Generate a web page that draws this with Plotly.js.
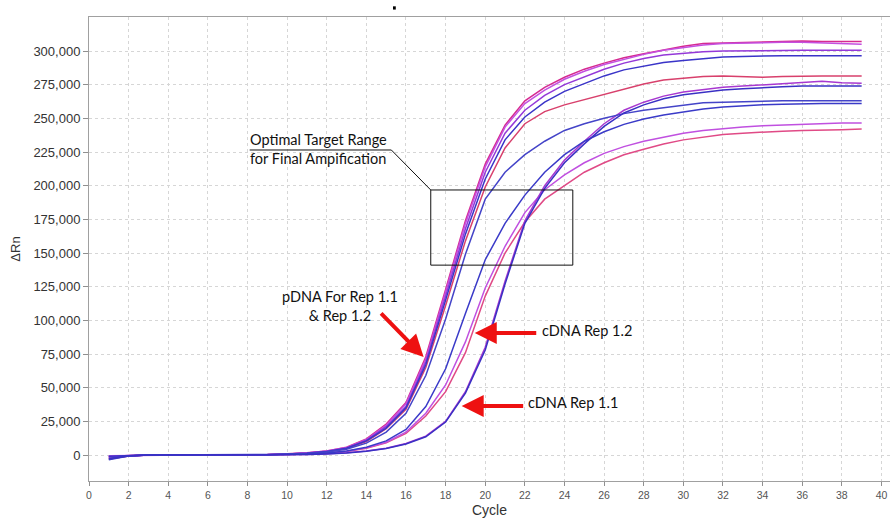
<!DOCTYPE html>
<html>
<head>
<meta charset="utf-8">
<script src="https://cdn.plot.ly/plotly-3.0.1.min.js"></script>
<style>html,body{margin:0;padding:0;background:#fff;}#chart{width:890px;height:518px;}</style>
</head>
<body>
<div id="chart"></div>
<script>
// Cycle numbers
const cycles = [1,2,3,4,5,6,7,8,9,10,11,12,13,14,15,16,17,18,19,20,21,22,23,24,25,26,27,28,29,30,31,32,33,34,35,36,37,38,39];

// pDNA wells (earliest amplification)
const pdnaA1 = [-1000,-400,0,0,0,0,0,100,300,900,1600,3000,5800,12000,23000,39000,73000,123000,174000,216000,245000,263000,273000,280500,286500,291000,295000,298000,301000,303500,305500,306000,306500,307000,307500,307500,307000,307000,307000];
const pdnaA2 = [-500,-300,0,0,0,0,0,100,300,800,1500,2900,5500,11500,22000,38000,71000,121000,172000,214000,243500,261000,271000,279000,285000,290000,294000,297500,300500,302500,304500,305500,306000,306500,306500,306500,306000,305500,305000];
const pdnaA3 = [-1500,-500,0,0,0,0,0,100,250,800,1400,2700,5200,11000,21000,36000,69000,118000,168000,210000,239000,256000,267000,275000,281000,286500,291000,294500,297000,298500,299500,300000,300200,300500,300500,300500,300500,300500,300500];
const pdnaA4 = [-1000,-400,0,0,0,0,0,100,250,700,1300,2600,5000,10500,20000,35000,67000,115000,164000,205000,234000,251000,262000,270000,276000,281500,286000,289000,291500,293000,294500,295500,296000,296500,296500,296500,296500,296500,296500];
const pdnaA5 = [-2000,-600,0,0,0,0,0,100,250,700,1300,2500,4800,10000,19500,34000,65000,111000,159000,199000,228000,246000,255000,260000,264000,267500,272000,275500,278500,280000,281000,281500,281000,280500,281000,281500,281500,281500,281500];
const pdnaA6 = [-3500,-800,0,0,0,0,0,100,200,600,1100,2200,4300,8800,17000,31000,59000,101000,149000,190000,210000,223000,233000,241000,246000,250000,253500,256000,258000,260000,261500,262000,262500,263000,263000,263000,263000,263000,263000];

// cDNA Rep 1.2 wells
const cdna12B1 = [-2500,-600,0,0,0,0,0,0,100,400,800,1500,3000,5800,10500,19000,36000,64000,105000,145000,172000,193000,210000,223000,233000,240000,245500,249500,252500,255000,257000,258500,259500,260000,260500,261000,261000,261000,261000];
const cdna12B2 = [-1000,-400,0,0,0,0,0,0,100,300,700,1400,2800,5300,9500,17000,31000,52000,84000,124000,155000,180000,197000,208000,217000,224000,229000,233000,236000,239000,241000,242500,243500,244500,245000,246000,246500,246500,246500];
const cdna12B3 = [-3000,-700,0,0,0,0,0,0,100,300,700,1300,2600,5000,9000,16000,29000,47000,76000,118000,150000,173000,190000,200000,210000,217000,223000,227000,231000,234000,236000,238000,239000,240000,240500,241000,241000,241500,242000];

// cDNA Rep 1.1 wells
const cdna11C1 = [-1500,-500,0,0,0,0,0,0,0,200,400,900,1600,3000,5000,8500,14000,25000,47000,80000,129000,174000,200000,219000,233000,246000,256000,262000,266500,269500,271500,273000,274000,275000,275500,276500,277500,276500,276000];
const cdna11C2 = [-3000,-700,0,0,0,0,0,0,0,200,400,800,1500,2800,4800,8200,13500,24500,46000,78000,127000,172000,198000,217000,231000,244000,254000,260000,264500,267500,269500,271000,272000,273000,273500,274000,274000,274000,274000];

// tick labels
const xTicks = [0,2,4,6,8,10,12,14,16,18,20,22,24,26,28,30,32,34,36,38,40];
const yTicks = [0,25000,50000,75000,100000,125000,150000,175000,200000,225000,250000,275000,300000];

const series = [
  {y: pdnaA5, c: '#d8406c'},
  {y: cdna12B3, c: '#e04a86'},
  {y: pdnaA1, c: '#d62a90'},
  {y: pdnaA2, c: '#c450e0'},
  {y: cdna12B2, c: '#c050e0'},
  {y: cdna11C1, c: '#a838d0'},
  {y: pdnaA3, c: '#9438d8'},
  {y: pdnaA4, c: '#3a34c8'},
  {y: pdnaA6, c: '#4444c8'},
  {y: cdna12B1, c: '#3a3ac8'},
  {y: cdna11C2, c: '#3a30c4'}
];

const traces = series.map(s => ({
  type: 'scatter', mode: 'lines', x: cycles, y: s.y,
  line: {color: s.c, width: 1.5}, hoverinfo: 'skip', showlegend: false
}));

const tickFont = {family: 'Liberation Sans, Arial, sans-serif'};
const noteFont = {family: 'Lato, Open Sans, sans-serif', size: 14.5, color: '#111'};

const layout = {
  width: 890, height: 518,
  margin: {l: 89, r: 0, t: 17, b: 37},
  paper_bgcolor: '#fff', plot_bgcolor: '#fff',
  showlegend: false,
  xaxis: {
    range: [0, 40.43], tickvals: xTicks, ticktext: xTicks.map(String),
    showgrid: true, gridcolor: '#d6d6d6', griddash: '3px,3px', gridwidth: 1,
    showline: true, linecolor: '#a0a0a0', linewidth: 1, mirror: true,
    ticks: 'outside', ticklen: 4, tickcolor: '#909090',
    tickfont: {family: tickFont.family, size: 10.5, color: '#555'},
    zeroline: false,
    title: {text: 'Cycle', font: {family: tickFont.family, size: 14, color: '#333'}, standoff: 6}
  },
  yaxis: {
    range: [-19300, 325250], tickvals: yTicks, tickformat: ',d',
    showgrid: true, gridcolor: '#d6d6d6', griddash: '3px,3px', gridwidth: 1,
    showline: true, linecolor: '#a0a0a0', linewidth: 1, mirror: false,
    ticks: 'outside', ticklen: 5, tickcolor: '#909090',
    tickfont: {family: tickFont.family, size: 13, color: '#333'},
    zeroline: false, automargin: true,
    title: {text: 'ΔRn', font: {family: tickFont.family, size: 13, color: '#333'}, standoff: 9}
  },
  shapes: [
    {type: 'rect', xref: 'x', yref: 'y', x0: 17.25, x1: 24.42, y0: 141000, y1: 196800,
     line: {color: '#111', width: 1}, fillcolor: 'rgba(0,0,0,0)'},
    {type: 'path', xref: 'x', yref: 'y', path: 'M 8.11,226500 L 15.26,226500 L 17.25,196800',
     line: {color: '#111', width: 1}},
    {type: 'rect', xref: 'paper', yref: 'paper', x0: 0.3795, x1: 0.3830, y0: 1.016, y1: 1.023,
     line: {width: 0}, fillcolor: '#000'}
  ],
  annotations: [
    {xref: 'x', yref: 'y', x: 8.0, y: 227000, xanchor: 'left', yanchor: 'middle', align: 'left',
     text: 'Optimal Target Range<br>for Final Ampification', showarrow: false, font: noteFont},
    {xref: 'x', yref: 'y', x: 12.65, y: 111000, xanchor: 'center', yanchor: 'middle', align: 'center',
     text: 'pDNA For Rep 1.1<br>&amp; Rep 1.2', showarrow: false, font: noteFont},
    {xref: 'x', yref: 'y', x: 22.75, y: 92800, xanchor: 'left', yanchor: 'middle',
     text: 'cDNA Rep 1.2', showarrow: false, font: noteFont},
    {xref: 'x', yref: 'y', x: 22.05, y: 38800, xanchor: 'left', yanchor: 'middle',
     text: 'cDNA Rep 1.1', showarrow: false, font: noteFont},
    {xref: 'x', yref: 'y', x: 16.89, y: 72800, ax: -44, ay: -45, text: '', showarrow: true,
     arrowcolor: '#ee1111', arrowwidth: 4, arrowhead: 2, arrowsize: 1.1},
    {xref: 'x', yref: 'y', x: 19.47, y: 90600, ax: 63, ay: 0, text: '', showarrow: true,
     arrowcolor: '#ee1111', arrowwidth: 4, arrowhead: 2, arrowsize: 1.1},
    {xref: 'x', yref: 'y', x: 18.81, y: 36400, ax: 63, ay: 0, text: '', showarrow: true,
     arrowcolor: '#ee1111', arrowwidth: 4, arrowhead: 2, arrowsize: 1.1}
  ]
};

Plotly.newPlot('chart', traces, layout, {staticPlot: true, displayModeBar: false});
</script>
</body>
</html>
